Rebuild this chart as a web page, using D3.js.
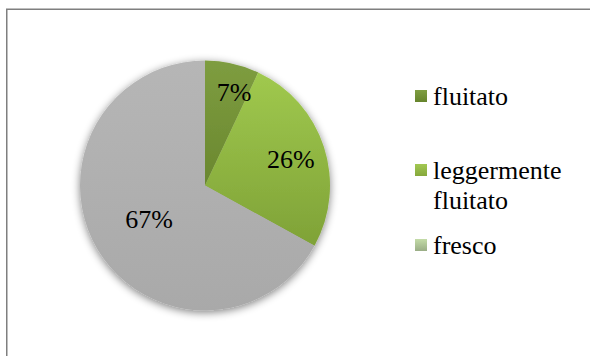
<!DOCTYPE html>
<html><head><meta charset="utf-8">
<script src="https://cdn.jsdelivr.net/npm/d3@7"></script>
<style>html,body{margin:0;padding:0;background:#fff;}svg{display:block;}
text{font-family:"Liberation Serif","Times New Roman",serif;}</style>
</head><body>
<script>
const categories = ["fluitato", "leggermente fluitato", "fresco"];
const values = [7, 26, 67];
const labels = ["7%", "26%", "67%"];
const legendLines = [["fluitato"], ["leggermente", "fluitato"], ["fresco"]];

const W = 590, H = 356;
const svg = d3.select("body").append("svg").attr("width", W).attr("height", H);
const defs = svg.append("defs");

const sliceGrad = [["#7e9d40", "#6a872f"], ["#a0c94e", "#7fa237"], ["#b6b6b6", "#a9a9a9"]];
const legendGrad = [["#7f9e42", "#66842c"], ["#a2c852", "#86a83c"], ["#c4dca8", "#9aad86"]];
function grad(id, c) {
  const g = defs.append("linearGradient").attr("id", id).attr("x1", 0).attr("y1", 0).attr("x2", 0).attr("y2", 1);
  g.append("stop").attr("offset", "0%").attr("stop-color", c[0]);
  g.append("stop").attr("offset", "100%").attr("stop-color", c[1]);
}
sliceGrad.forEach((c, i) => grad("sg" + i, c));
legendGrad.forEach((c, i) => grad("lg" + i, c));

const f = defs.append("filter").attr("id", "shadow").attr("x", "-20%").attr("y", "-20%").attr("width", "140%").attr("height", "140%");
f.append("feGaussianBlur").attr("in", "SourceAlpha").attr("stdDeviation", 4).attr("result", "b");
f.append("feOffset").attr("in", "b").attr("dx", 0).attr("dy", 2).attr("result", "o");
f.append("feComponentTransfer").attr("in", "o").attr("result", "o2")
  .append("feFuncA").attr("type", "linear").attr("slope", 0.5);
const m = f.append("feMerge");
m.append("feMergeNode").attr("in", "o2");
m.append("feMergeNode").attr("in", "SourceGraphic");

svg.append("rect").attr("x", 6.75).attr("y", 9.25).attr("width", 620).attr("height", 400)
  .attr("fill", "#fff").attr("stroke", "#7f7f7f").attr("stroke-width", 1.5);

const cx = 205, cy = 185.5, R = 125;
const pie = d3.pie().sort(null).value(d => d);
const arcs = pie(values);
const arc = d3.arc().innerRadius(0).outerRadius(R);
const g = svg.append("g").attr("transform", `translate(${cx},${cy})`);
const pg = g.append("g").attr("filter", "url(#shadow)");
pg.selectAll("path").data(arcs).join("path")
  .attr("d", arc)
  .attr("fill", (d, i) => `url(#sg${i})`);

const labelR = [0.77, 0.68, 0.52];
const labelShift = [[8, 0], [5, 0], [0, 0]];
g.selectAll("text.lbl").data(arcs).join("text")
  .attr("class", "lbl")
  .attr("x", (d, i) => d3.arc().innerRadius(R * labelR[i]).outerRadius(R * labelR[i]).centroid(d)[0] + labelShift[i][0])
  .attr("y", (d, i) => d3.arc().innerRadius(R * labelR[i]).outerRadius(R * labelR[i]).centroid(d)[1] + labelShift[i][1])
  .attr("dy", "0.35em")
  .attr("text-anchor", "middle")
  .attr("font-size", 26)
  .attr("fill", "#000")
  .text((d, i) => labels[i]);

const legY = [90, 164, 239];
const lg = svg.append("g");
categories.forEach((c, i) => {
  lg.append("rect").attr("x", 415).attr("y", legY[i]).attr("width", 12).attr("height", 12)
    .attr("fill", `url(#lg${i})`);
  const t = lg.append("text").attr("x", 433).attr("y", legY[i] + 15)
    .attr("font-size", 26).attr("fill", "#000");
  legendLines[i].forEach((ln, j) => t.append("tspan").attr("x", 433).attr("dy", j === 0 ? 0 : 30).text(ln));
});
</script>
</body></html>
